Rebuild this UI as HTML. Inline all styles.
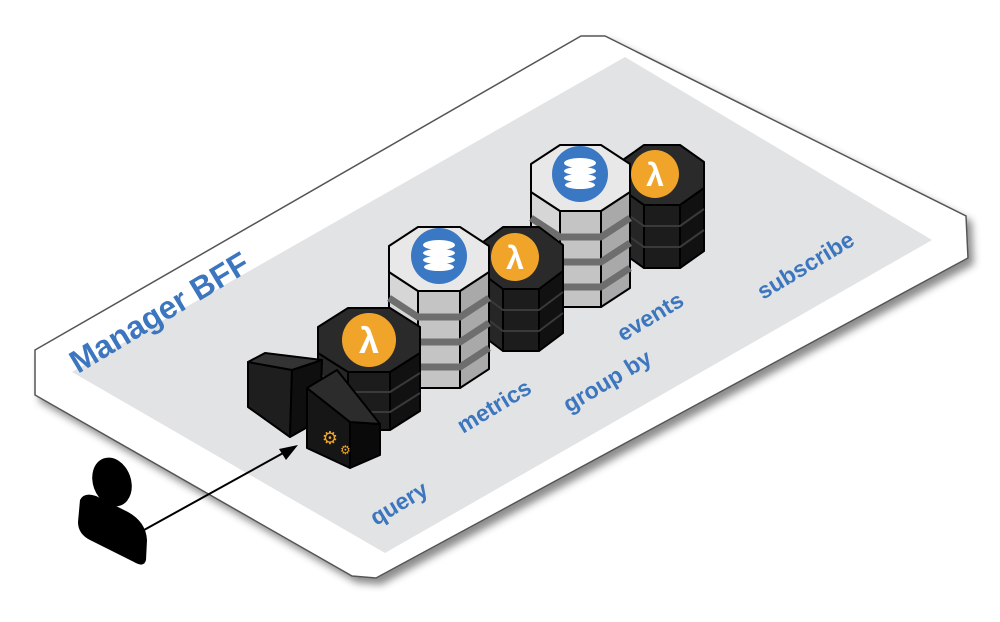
<!DOCTYPE html>
<html><head><meta charset="utf-8"><style>html,body{margin:0;padding:0;background:#fff}svg{display:block}</style></head><body>
<svg width="1000" height="622" viewBox="0 0 1000 622" xmlns="http://www.w3.org/2000/svg">
<defs>
<filter id="sh" x="-10%" y="-10%" width="130%" height="130%"><feDropShadow dx="5" dy="6" stdDeviation="4" flood-color="#000" flood-opacity="0.45"/></filter>
</defs>
<polygon points="35,350 581,36 605,36 966,216 968,258 376,578 352,576 35,395" fill="#fff" stroke="#555" stroke-width="1.5" filter="url(#sh)"/>
<polygon points="72,372 625,57 932,240 385,553" fill="#e2e3e5"/>

<g stroke="#000" stroke-width="2" stroke-linejoin="round">
<polygon points="620,188 644,205 644,268 620,251" fill="#262626"/>
<polygon points="644,205 680,205 680,268 644,268" fill="#1c1c1c"/>
<polygon points="680,205 704,188 704,251 680,268" fill="#111"/>
<polyline points="620,209 644,226 680,226 704,209" fill="none" stroke="#3a3a3a"/>
<polyline points="620,230 644,247 680,247 704,230" fill="none" stroke="#3a3a3a"/>
<polygon points="644,145 680,145 704,162 704,188 680,205 644,205 620,188 620,162" fill="#2a2a2a"/>
<circle cx="655" cy="174" r="24" fill="#f0a52a" stroke="none"/>
<polygon points="531,192 560,211 560,307 531,288" fill="#d6d6d6"/>
<polygon points="560,211 601,211 601,307 560,307" fill="#c4c4c4"/>
<polygon points="601,211 630,192 630,288 601,307" fill="#a9a9a9"/>
<polyline points="531,218 560,237 601,237 630,218" fill="none" stroke="#6e6e6e" stroke-width="7"/>
<polyline points="531,243 560,262 601,262 630,243" fill="none" stroke="#6e6e6e" stroke-width="7"/>
<polyline points="531,268 560,287 601,287 630,268" fill="none" stroke="#6e6e6e" stroke-width="7"/>
<polygon points="560,145 601,145 630,164 630,192 601,211 560,211 531,192 531,164" fill="#e8e8e8"/>
<circle cx="580" cy="174" r="28" fill="#3b78c4" stroke="none"/>
<polygon points="479,271 503,289 503,351 479,333" fill="#262626"/>
<polygon points="503,289 539,289 539,351 503,351" fill="#1c1c1c"/>
<polygon points="539,289 563,271 563,333 539,351" fill="#111"/>
<polyline points="479,292 503,310 539,310 563,292" fill="none" stroke="#3a3a3a"/>
<polyline points="479,313 503,331 539,331 563,313" fill="none" stroke="#3a3a3a"/>
<polygon points="503,227 539,227 563,245 563,271 539,289 503,289 479,271 479,245" fill="#2a2a2a"/>
<circle cx="515" cy="257" r="24" fill="#f0a52a" stroke="none"/>
<polygon points="389,272 418,291 418,388 389,369" fill="#d6d6d6"/>
<polygon points="418,291 460,291 460,388 418,388" fill="#c4c4c4"/>
<polygon points="460,291 489,272 489,369 460,388" fill="#a9a9a9"/>
<polyline points="389,298 418,317 460,317 489,298" fill="none" stroke="#6e6e6e" stroke-width="7"/>
<polyline points="389,323 418,342 460,342 489,323" fill="none" stroke="#6e6e6e" stroke-width="7"/>
<polyline points="389,348 418,367 460,367 489,348" fill="none" stroke="#6e6e6e" stroke-width="7"/>
<polygon points="418,227 460,227 489,246 489,272 460,291 418,291 389,272 389,246" fill="#e8e8e8"/>
<circle cx="439" cy="256" r="28" fill="#3b78c4" stroke="none"/>
<polygon points="318,353 348,372 348,430 318,411" fill="#262626"/>
<polygon points="348,372 390,372 390,430 348,430" fill="#1c1c1c"/>
<polygon points="390,372 420,353 420,411 390,430" fill="#111"/>
<polyline points="318,373 348,392 390,392 420,373" fill="none" stroke="#3a3a3a"/>
<polyline points="318,393 348,412 390,412 420,393" fill="none" stroke="#3a3a3a"/>
<polygon points="348,308 390,308 420,327 420,353 390,372 348,372 318,353 318,327" fill="#2a2a2a"/>
<circle cx="369" cy="340" r="27" fill="#f0a52a" stroke="none"/>
<polygon points="248,362 292,370 290,437 248,407" fill="#1e1e1e"/>
<polygon points="292,370 322,360 320,420 290,437" fill="#0f0f0f"/>
<polygon points="248,362 265,353 322,360 292,370" fill="#333"/>
<polygon points="307,388 350,422 350,468 307,448" fill="#161616"/>
<polygon points="350,422 380,424 380,455 350,468" fill="#0a0a0a"/>
<polygon points="307,388 337,370 380,424 350,422" fill="#2c2c2c"/>
</g>
<g fill="#fff">
<ellipse cx="439" cy="245" rx="16" ry="5"/><ellipse cx="439" cy="253" rx="16" ry="4"/><ellipse cx="439" cy="260" rx="16" ry="4"/><ellipse cx="439" cy="267" rx="15" ry="4"/>
<ellipse cx="580" cy="163" rx="16" ry="5"/><ellipse cx="580" cy="171" rx="16" ry="4"/><ellipse cx="580" cy="178" rx="16" ry="4"/><ellipse cx="580" cy="185" rx="15" ry="4"/>
</g>
<g fill="#fff" font-family="Liberation Sans, sans-serif" font-weight="bold" text-anchor="middle">
<text x="369" y="353" font-size="36">λ</text>
<text x="515" y="269" font-size="32">λ</text>
<text x="655" y="186" font-size="32">λ</text>
</g>
<text x="330" y="444" font-size="18" fill="#f0a52a" font-family="DejaVu Sans, sans-serif" text-anchor="middle">⚙</text>
<text x="340" y="454" font-size="12" fill="#f0a52a" font-family="DejaVu Sans, sans-serif">⚙</text>
<ellipse cx="112" cy="482" rx="19" ry="25" transform="rotate(-20 112 482)" fill="#000"/>
<path d="M80,500 Q84,492 96,496 L128,512 Q146,522 147,540 L146,560 Q144,568 134,562 L90,540 Q78,534 78,522 Z" fill="#000"/>
<line x1="144" y1="530" x2="285" y2="452" stroke="#000" stroke-width="2"/>
<polygon points="298,445 279,449 286,460" fill="#000"/>
<g font-family="Liberation Sans, sans-serif" font-weight="bold" fill="#3c76be">
<text transform="translate(78,374) rotate(-31)" font-size="32">Manager BFF</text>
<text transform="translate(376,526) rotate(-31)" font-size="23">query</text>
<text transform="translate(463,434) rotate(-31)" font-size="23">metrics</text>
<text transform="translate(569,413) rotate(-31)" font-size="23">group by</text>
<text transform="translate(623,342) rotate(-31)" font-size="23">events</text>
<text transform="translate(763,300) rotate(-31)" font-size="23">subscribe</text>
</g>
</svg>
</body></html>
